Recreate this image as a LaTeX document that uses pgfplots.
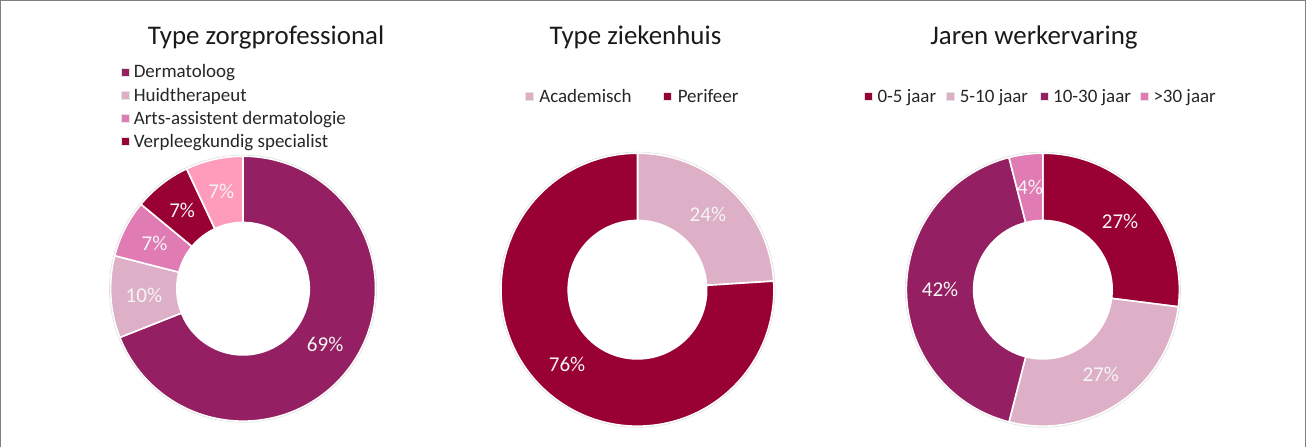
\documentclass[border=0pt]{standalone}
\usepackage{fontspec}
\setmainfont{Carlito}
\usepackage{pgfplots}
\usepackage{pgfplotstable}
\pgfplotsset{compat=1.18}

\definecolor{cPurple}{HTML}{941F62}
\definecolor{cLight}{HTML}{DDB0C8}
\definecolor{cPink}{HTML}{E07CB3}
\definecolor{cRed}{HTML}{990033}
\definecolor{cPinkB}{HTML}{FF9CBC}
\definecolor{cText}{HTML}{1A1A1A}
\definecolor{cLeg}{HTML}{262626}

% slices clockwise from 12 o'clock
\pgfplotstableread{
value color
69 cPurple
10 cLight
7  cPink
7  cRed
7  cPinkB
}\tabZorg
\pgfplotstableread{
value color
24 cLight
76 cRed
}\tabZiek
\pgfplotstableread{
value color
27 cRed
27 cLight
42 cPurple
4  cPink
}\tabJaren

\tikzset{lbl/.style={font=\fontsize{21}{24}\selectfont, text=white!96!black, inner sep=0pt},
  ttl/.style={font=\fontsize{26.8}{30}\selectfont, text=cText, inner sep=0pt, anchor=base},
  leg/.style={font=\fontsize{18.9}{22}\selectfont, text=cLeg, inner sep=0pt, anchor=base west}}

% #1 table, #2 cx, #3 cy (canvas), #4 R, #5 r
\newcommand\donut[5]{%
  \pgfplotstablegetrowsof{#1}%
  \pgfmathtruncatemacro\nrows{\pgfplotsretval-1}%
  \def\acc{90}%
  \pgfplotsforeachungrouped \rowi in {0,...,\nrows}{%
    \pgfplotstablegetelem{\rowi}{value}\of{#1}\let\dval\pgfplotsretval
    \pgfplotstablegetelem{\rowi}{color}\of{#1}\let\dcol\pgfplotsretval
    \pgfmathsetmacro\aend{\acc-3.6*\dval}%
    \pgfmathsetmacro\amid{(\acc+\aend)/2}%
    \pgfmathsetmacro\xa{#2+#4*cos(\acc)}%
    \pgfmathsetmacro\ya{#3+#4*sin(\acc)}%
    \pgfmathsetmacro\xb{#2+#5*cos(\aend)}%
    \pgfmathsetmacro\yb{#3+#5*sin(\aend)}%
    \pgfmathsetmacro\xm{#2+(#4+#5)/2*cos(\amid)}%
    \pgfmathsetmacro\ym{#3+(#4+#5)/2*sin(\amid)}%
    \edef\cmd{%
      \noexpand\fill[fill=\dcol,draw=white,line width=1.6pt,line join=round]
        (axis cs:\xa,\ya) arc[start angle=\acc,end angle=\aend,radius=#4pt]
        -- (axis cs:\xb,\yb) arc[start angle=\aend,end angle=\acc,radius=#5pt] -- cycle;
      \noexpand\node[lbl] at (axis cs:\xm,\ym) {\dval\noexpand\%};
    }\cmd
    \let\acc\aend
  }%
  \draw[black!12,line width=0.6pt] (axis cs:#2,#3) circle[radius=#4pt+1.1pt];
}

\newcommand\legsq[3]{% x, py-center, color
  \fill[#3,draw=black!10,line width=0.4pt] (axis cs:#1,{450-#2-4}) rectangle (axis cs:{#1+8},{450-#2+4});
}

\begin{document}
\begin{tikzpicture}
\begin{axis}[
  x=1pt, y=1pt, scale only axis,
  xmin=0, xmax=1306, ymin=0, ymax=450,
  hide axis, clip=false,
]
% frame
\draw[black!50,line width=1.3pt] (axis cs:4.5,0) -- (axis cs:4.5,445) -- (axis cs:1304.5,445) -- (axis cs:1304.5,0);

% donuts
\donut{\tabZorg}{246}{158}{132}{66}
\donut{\tabZiek}{639}{157}{136}{69}
\donut{\tabJaren}{1043}{157}{136}{69}

% titles
\node[ttl] at (axis cs:269,401) {Type zorgprofessional};
\node[ttl] at (axis cs:637,401) {Type ziekenhuis};
\node[ttl] at (axis cs:1034,401) {Jaren werkervaring};

% legend 1
\legsq{125}{76}{cPurple}
\legsq{125}{99}{cLight}
\legsq{125}{122}{cPink}
\legsq{125}{145}{cRed}
\node[leg] at (axis cs:137,{450-82}) {Dermatoloog};
\node[leg] at (axis cs:137,{450-105}) {Huidtherapeut};
\node[leg] at (axis cs:137,{450-128}) {Arts-assistent dermatologie};
\node[leg] at (axis cs:137,{450-151}) {Verpleegkundig specialist};

% legend 2
\legsq{527}{100}{cLight}
\legsq{665}{100}{cRed}
\node[leg] at (axis cs:541,{450-106}) {Academisch};
\node[leg] at (axis cs:679,{450-106}) {Perifeer};

% legend 3
\legsq{865}{100}{cRed}
\legsq{947}{100}{cLight}
\legsq{1040}{100}{cPurple}
\legsq{1140}{100}{cPink}
\node[leg] at (axis cs:878,{450-106}) {0-5 jaar};
\node[leg] at (axis cs:960,{450-106}) {5-10 jaar};
\node[leg] at (axis cs:1053,{450-106}) {10-30 jaar};
\node[leg] at (axis cs:1153,{450-106}) {>30 jaar};
\end{axis}
\end{tikzpicture}
\end{document}
